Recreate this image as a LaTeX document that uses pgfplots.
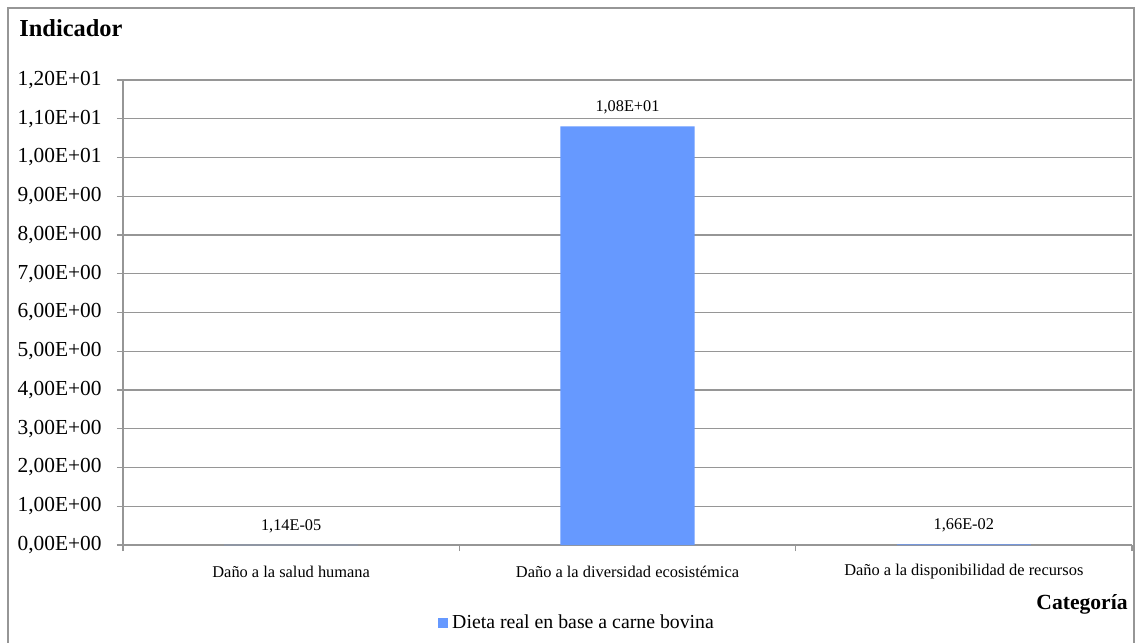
\documentclass[border=0pt]{standalone}
\usepackage{pgfplots}
\pgfplotsset{compat=1.18}
\usepackage{fontspec}
\setmainfont{Liberation Serif}
\definecolor{gridc}{RGB}{150,150,150}
\definecolor{barc}{RGB}{102,153,255}
% pixel (px,py from top-left) -> pt: (0.5*px, 0.5*(643-py))
\begin{document}
\begin{tikzpicture}
\useasboundingbox (0pt,0pt) rectangle (568pt,321.5pt);
\fill[white] (0pt,0pt) rectangle (568pt,321.5pt);
\draw[gridc, line width=0.7pt] (4pt,0pt) -- (4pt,317.5pt) -- (567pt,317.5pt) -- (567pt,0pt);
\begin{axis}[
  at={(61.5pt,49pt)}, anchor=south west,
  width=504.5pt, height=232.5pt, scale only axis,
  xmin=-0.5, xmax=2.5, ymin=0, ymax=12,
  axis x line*=bottom, axis y line*=left,
  axis line style={gridc, line width=0.6pt},
  ymajorgrids, grid style={gridc, line width=0.6pt},
  ytick={0,1,...,12},
  yticklabels={{0,00E+00},{1,00E+00},{2,00E+00},{3,00E+00},{4,00E+00},{5,00E+00},{6,00E+00},{7,00E+00},{8,00E+00},{9,00E+00},{1,00E+01},{1,10E+01},{1,20E+01}},
  xtick={-0.5,0.5,1.5,2.5},
  x tick label as interval,
  xticklabels={{Daño a la salud humana},{Daño a la diversidad ecosistémica},{Daño a la disponibilidad de recursos}},
  tick align=outside, major tick length=3pt,
  tick style={gridc, line width=0.6pt},
  yticklabel style={font=\fontsize{10.7}{12}\selectfont, anchor=east, inner sep=0pt, xshift=-7.5pt},
  xticklabel style={font=\fontsize{8.2}{10}\selectfont, anchor=center, inner sep=0pt, yshift=-10.5pt},
  ybar, bar width=67pt, bar shift=0pt,
  nodes near coords={\pgfplotspointmeta},
  point meta=explicit symbolic,
  every node near coord/.append style={font=\fontsize{8.15}{10}\selectfont, anchor=center, yshift=9.5pt, text=black},
  legend style={at={(0.451,-0.1677)}, anchor=center, draw=none, fill=none, font=\fontsize{9.9}{11}\selectfont, inner sep=0pt},
  legend image code/.code={\fill[#1,draw=none] (0pt,-2.5pt) rectangle (5pt,2.5pt);},
  clip=false,
]
\addplot[fill=barc, draw=none] table[meta=lab] {
x y lab
0 0.0000114 1,14E-05
1 10.8 1,08E+01
2 0.0166 1,66E-02
};
\addlegendentry{Dieta real en base a carne bovina}
\end{axis}
\node[anchor=west, font=\bfseries\fontsize{12.2}{14}\selectfont, inner sep=0pt] at (9.5pt,307.5pt) {Indicador};
\node[anchor=east, font=\bfseries\fontsize{10.8}{12}\selectfont, inner sep=0pt] at (564pt,19.5pt) {Categoría};
\end{tikzpicture}
\end{document}
